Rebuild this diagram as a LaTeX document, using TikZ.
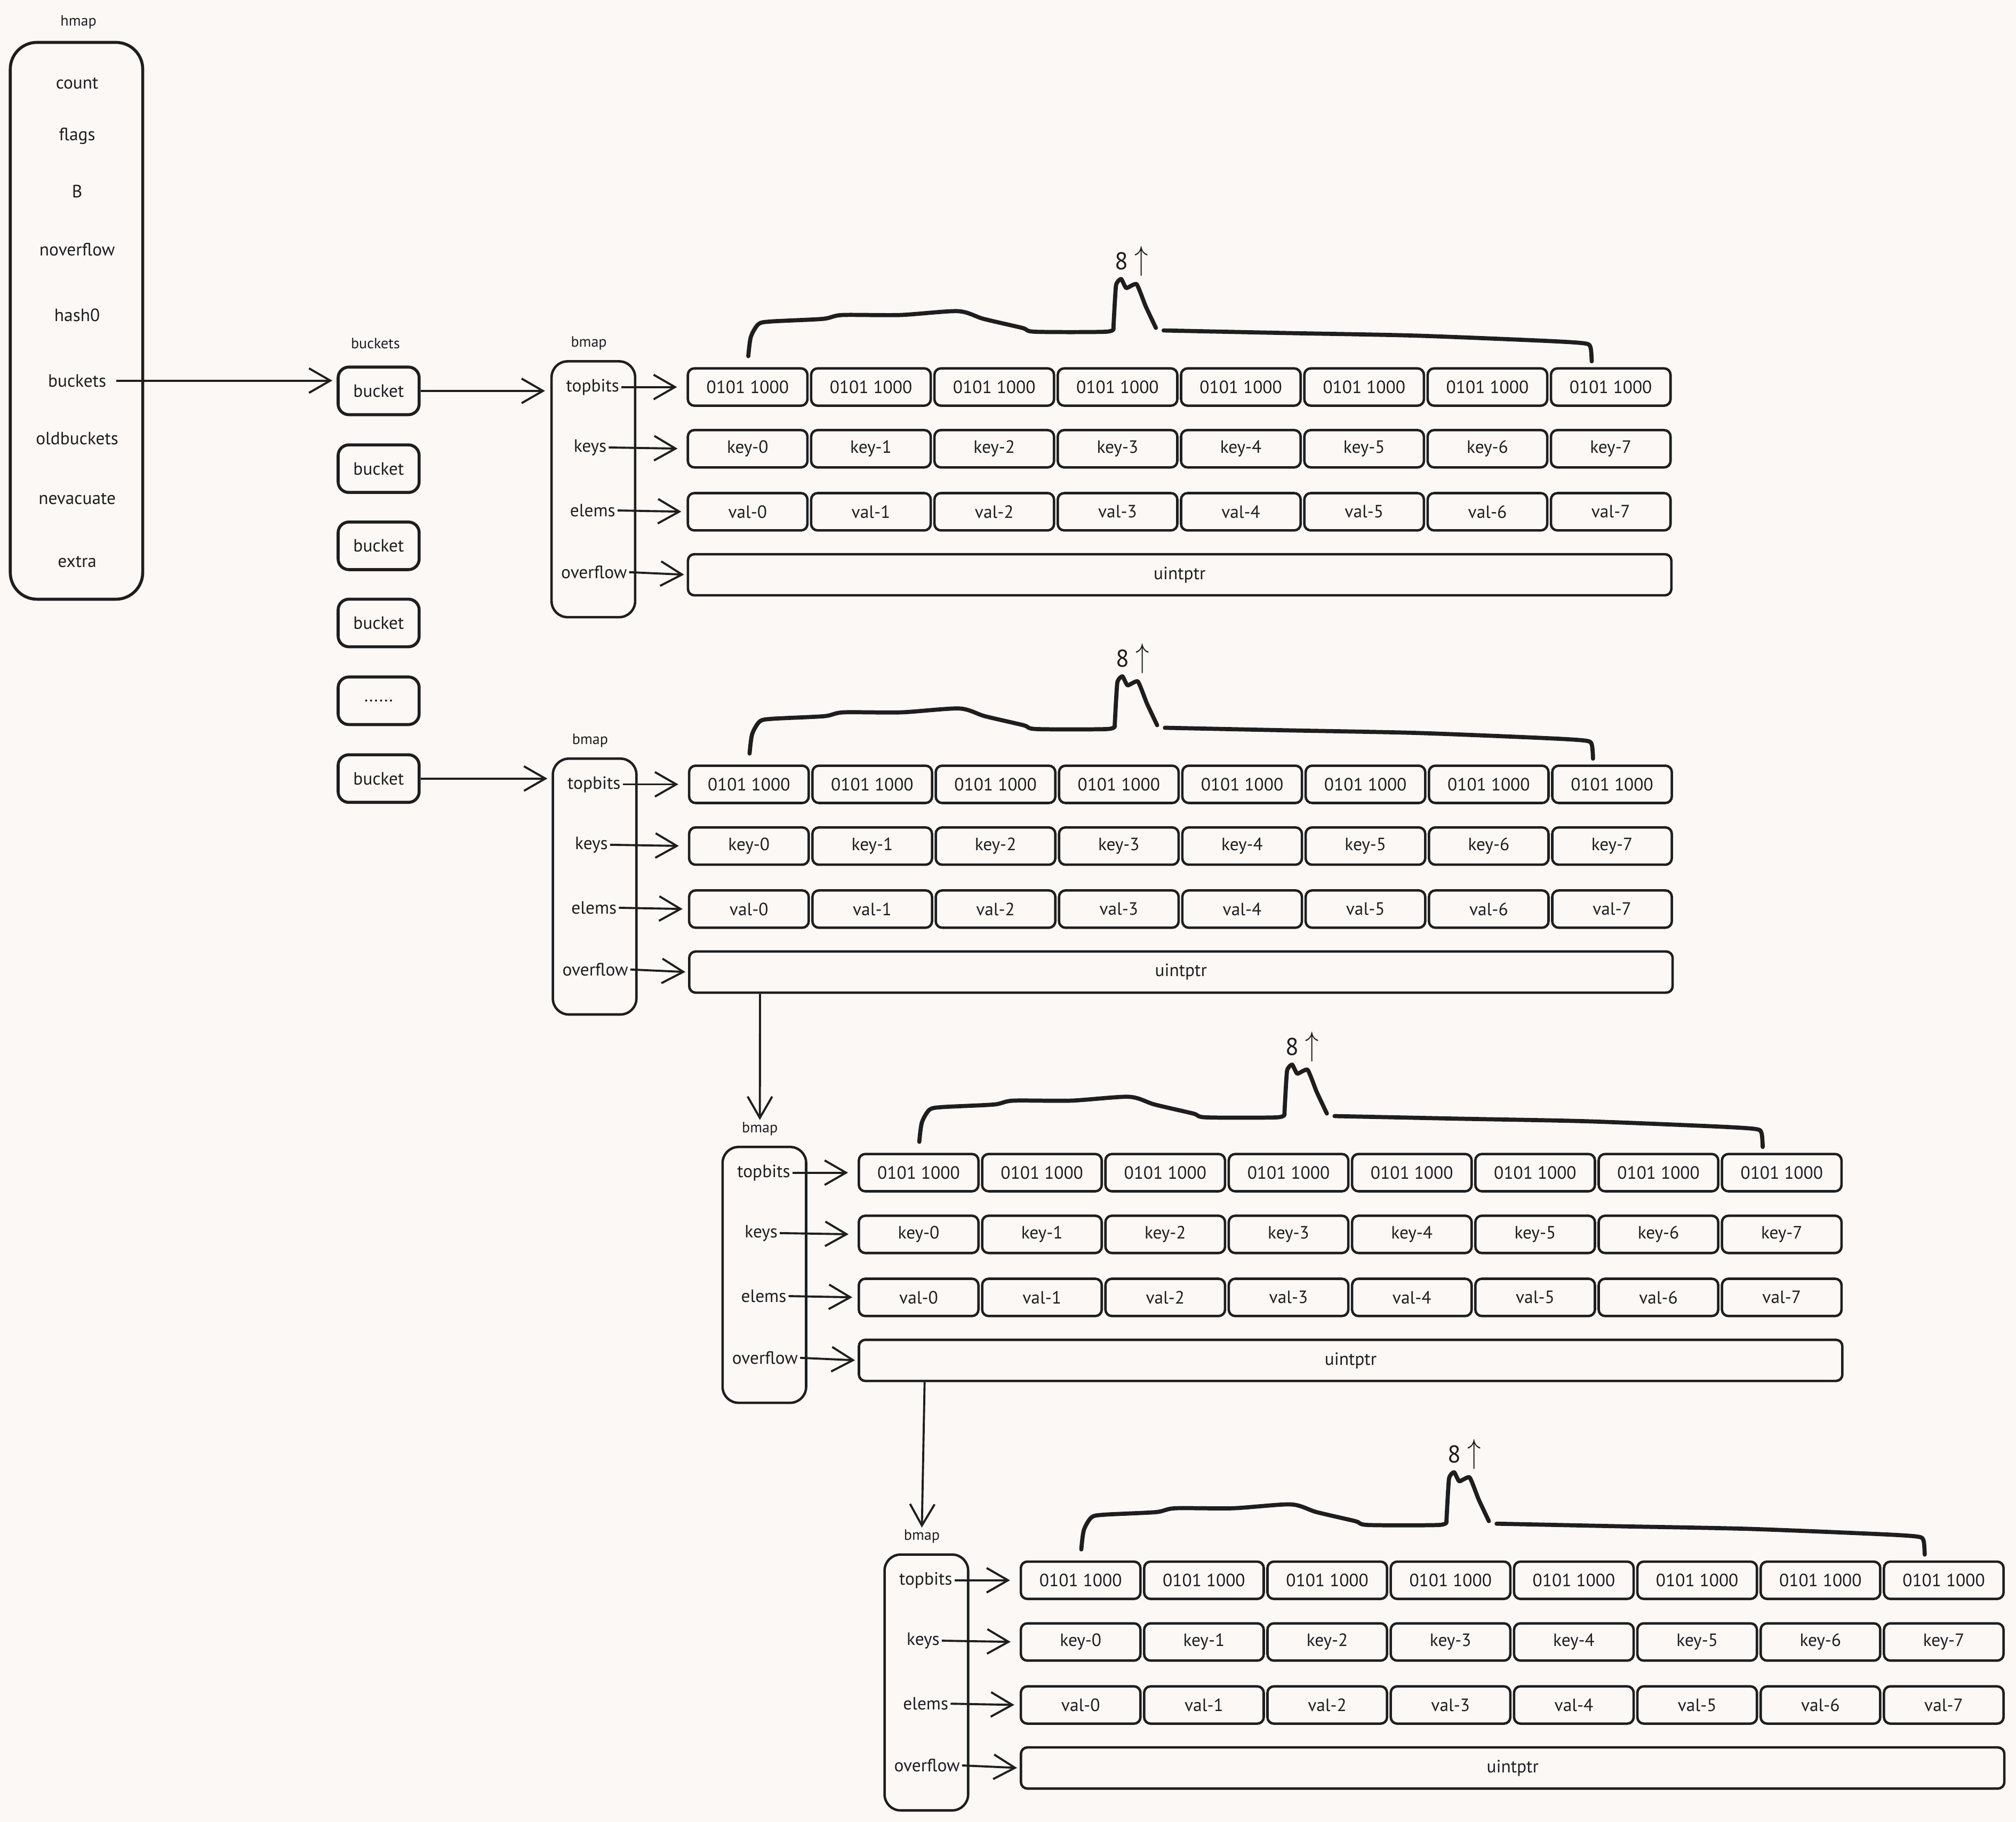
\documentclass[tikz,border=0pt]{standalone}
\usepackage{fontspec}
\setmainfont{PT Sans}
\usetikzlibrary{arrows.meta}
\definecolor{bg}{HTML}{FCF8F6}
\definecolor{ink}{HTML}{1E1E1E}
\tikzset{
  cell/.style={draw=ink, line width=1.3pt, rounded corners=0.12cm, minimum width=2.242cm, minimum height=0.699cm, inner sep=0pt, font=\fontsize{9.5}{11}\selectfont, text=ink},
  widecell/.style={cell, minimum width=18.44cm, minimum height=0.771cm},
  field/.style={font=\fontsize{9.5}{11}\selectfont, inner sep=1pt, text=ink},
  ttl/.style={font=\fontsize{8}{10}\selectfont, inner sep=1pt, text=ink},
  bmapbox/.style={draw=ink, line width=1.3pt, rounded corners=0.3cm, minimum width=1.567cm, minimum height=4.797cm, inner sep=0pt},
  bucketbox/.style={draw=ink, line width=1.6pt, rounded corners=0.2cm, minimum width=1.519cm, minimum height=0.892cm, inner sep=0pt, font=\fontsize{9.5}{11}\selectfont, text=ink},
  arr/.style={-{Straight Barb[length=4mm,width=4.6mm]}, line width=1.1pt, draw=ink},
  bracestroke/.style={line width=2.2pt, line cap=round, line join=round, draw=ink},
  countlbl/.style={font=\fontsize{13}{15}\selectfont, inner sep=1pt, text=ink}
}
\newcommand\bmapblock[3]{%
  \begin{scope}[shift={(#2,#3)}]
    \node[bmapbox] (#1box) at (-73.5,79.5) {};
    \node[ttl] (#1title) at (-77,-34) {bmap};
    \node[field] (#1tb) at (-74,0) {topbits};
    \node[field] (#1ky) at (-76,47) {keys};
    \node[field] (#1el) at (-74,96) {elems};
    \node[field] (#1of) at (-73,144) {overflow};
    \foreach \i [evaluate=\i as \cx using 46.5+\i*95.9] in {0,...,7} {
      \node[cell] (#1t\i) at (\cx,0) {0101 1000};
      \node[cell] (#1k\i) at (\cx,48) {key-\i};
      \node[cell] (#1v\i) at (\cx,97) {val-\i};
    }
    \node[widecell] (#1u) at (382.5,146) {uintptr};
    \draw[arr, shorten >=0.18cm] (#1tb.east) -- (#1t0.west);
    \draw[arr, shorten >=0.17cm] (#1ky.east) -- (#1k0.west);
    \draw[arr, shorten >=0.1cm] (#1el.east) -- (#1v0.west);
    \draw[arr, shorten >=0.05cm] (#1of.east) -- (#1u.west);
    \node[countlbl] (#1cnt) at (345,-98) {8 \scalebox{1.2}[1.5]{$\uparrow$}};
    \draw[bracestroke] plot[smooth, tension=0.45] coordinates {
      (47,-24) (49,-39) (55,-49) (65,-51) (105,-53) (120,-56) (165,-56)
      (210,-59) (230,-53) (260,-46) (270,-43) (325,-43) (331,-46)};
    \draw[bracestroke] plot[smooth, tension=0.3] coordinates {
      (331,-46) (333,-79) (337,-84) (341,-77) (349,-80) (356,-63) (364,-46)};
    \draw[bracestroke] plot[smooth, tension=0.45] coordinates {
      (370,-44) (465,-42) (565,-40) (665,-36) (697,-34) (702,-31) (703,-20)};
  \end{scope}
}
\begin{document}
\begin{tikzpicture}[x=0.024107cm, y=-0.024107cm]
  \fill[bg] (0,0) rectangle (1568,1417);
  \useasboundingbox (0,0) rectangle (1568,1417);

  % hmap
  \node[ttl] (hmaptitle) at (61,17) {hmap};
  \node[draw=ink, line width=1.6pt, rounded corners=0.5cm, minimum width=2.483cm, minimum height=10.44cm, inner sep=0pt] (hmap) at (59.5,249.5) {};
  \node[field] (hcount) at (60,65) {count};
  \node[field] (hflags) at (60,106) {flags};
  \node[field] (hB) at (60,149) {B};
  \node[field] (hnov) at (60,194) {noverflow};
  \node[field] (hhash) at (60,245) {hash0};
  \node[field] (hbuckets) at (60,296) {buckets};
  \node[field] (hold) at (60,341) {oldbuckets};
  \node[field] (hnev) at (60,388) {nevacuate};
  \node[field] (hextra) at (60,437) {extra};

  % buckets
  \node[ttl] (bkttitle) at (292,267) {buckets};
  \node[bucketbox] (bk1) at (294.5,304) {bucket};
  \node[bucketbox] (bk2) at (294.5,364.5) {bucket};
  \node[bucketbox] (bk3) at (294.5,424.5) {bucket};
  \node[bucketbox] (bk4) at (294.5,484.5) {bucket};
  \node[bucketbox] (bk5) at (294.5,545) {......};
  \node[bucketbox] (bk6) at (294.5,605.5) {bucket};

  \draw[arr, shorten >=0.08cm, shorten <=0.15cm] (hbuckets.east) -- (hbuckets.east -| bk1.west);

  % bmaps
  \bmapblock{ba}{535}{301}
  \bmapblock{bb}{536}{610}
  \bmapblock{bc}{668}{912}
  \bmapblock{bd}{794}{1229}

  \draw[arr, shorten >=0.1cm] (bk1.east) -- (bk1.east -| babox.west);
  \draw[arr, shorten >=0.08cm] (bk6.east) -- (bk6.east -| bbbox.west);
  \draw[arr] ([xshift=1.35cm]bbu.south west) -- (bctitle.north);
  \draw[arr] ([xshift=1.254cm]bcu.south west) -- (bdtitle.north);
\end{tikzpicture}
\end{document}
